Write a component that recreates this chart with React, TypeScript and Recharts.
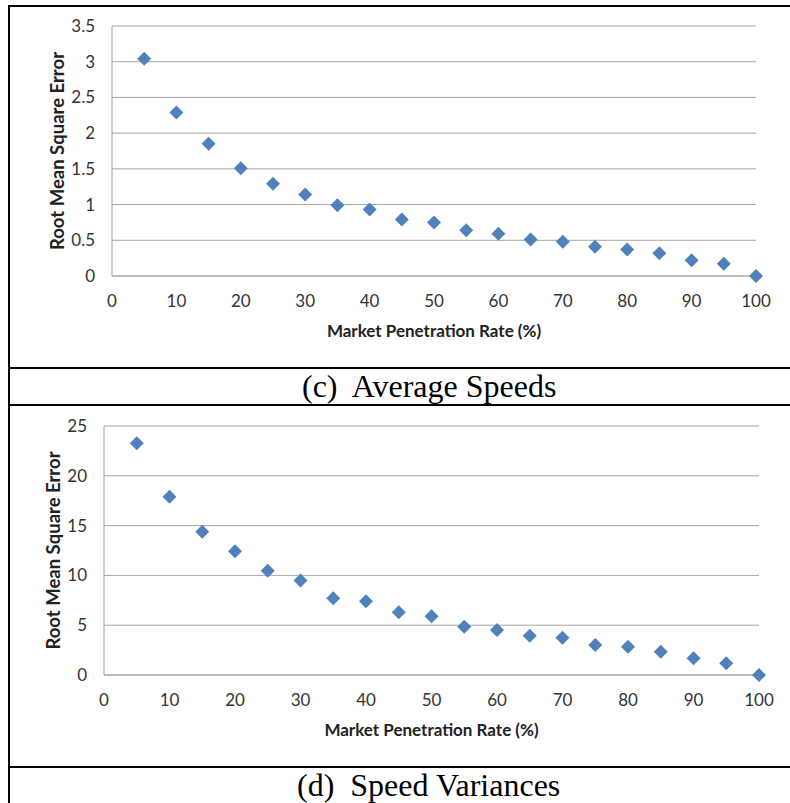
import React from 'react';
import { ScatterChart, Scatter, XAxis, YAxis, CartesianGrid } from 'recharts';

// Market penetration rates (%) shared by both panels
const penetrationRates = [5, 10, 15, 20, 25, 30, 35, 40, 45, 50, 55, 60, 65, 70, 75, 80, 85, 90, 95, 100];

// (c) RMSE of average speeds
const avgSpeedRmse = [3.04, 2.29, 1.85, 1.51, 1.29, 1.14, 0.99, 0.93, 0.79, 0.75, 0.64, 0.59, 0.51, 0.48, 0.41, 0.37, 0.32, 0.22, 0.17, 0.0];

// (d) RMSE of speed variances
const speedVarianceRmse = [23.26, 17.9, 14.39, 12.42, 10.47, 9.5, 7.7, 7.4, 6.3, 5.89, 4.85, 4.52, 3.95, 3.75, 3.01, 2.84, 2.34, 1.67, 1.17, 0.0];

const xTicks = [0, 10, 20, 30, 40, 50, 60, 70, 80, 90, 100];
const avgSpeedTicks = [0, 0.5, 1, 1.5, 2, 2.5, 3, 3.5];
const varianceTicks = [0, 5, 10, 15, 20, 25];

const MARKER = '#4F81BD';
const GRID = '#A6A6A6';
const AXIS_FONT = 'Lato, "Open Sans", sans-serif';

const Diamond = (props: any) => {
  const { cx, cy } = props;
  const r = 7;
  return <path d={`M${cx},${cy - r}L${cx + r},${cy}L${cx},${cy + r}L${cx - r},${cy}Z`} fill={MARKER} />;
};

interface PanelProps {
  values: number[];
  yTicks: number[];
  height: number;
  margin: { top: number; right: number; left: number; bottom: number };
  yAxisWidth: number;
}

const Panel: React.FC<PanelProps> = ({ values, yTicks, height, margin, yAxisWidth }) => {
  const data = penetrationRates.map((x, i) => ({ x, y: values[i] }));
  const tickStyle = { fill: '#333', fontSize: 17, fontFamily: AXIS_FONT };
  return (
    <ScatterChart width={790} height={height} margin={margin}>
      <CartesianGrid vertical={false} stroke={GRID} />
      <XAxis
        type="number"
        dataKey="x"
        domain={[0, 100]}
        ticks={xTicks}
        interval={0}
        tick={tickStyle}
        tickLine={false}
        tickSize={0}
        tickMargin={19}
        axisLine={{ stroke: GRID }}
        height={70}
        label={{
          value: 'Market Penetration Rate (%)',
          position: 'insideTop',
          offset: 49,
          fill: '#222',
          fontSize: 17,
          fontWeight: 700,
          fontFamily: AXIS_FONT,
        }}
      />
      <YAxis
        type="number"
        dataKey="y"
        domain={[yTicks[0], yTicks[yTicks.length - 1]]}
        ticks={yTicks}
        interval={0}
        tick={tickStyle}
        tickLine={false}
        tickSize={0}
        tickMargin={17}
        axisLine={{ stroke: GRID }}
        width={yAxisWidth}
        label={{
          value: 'Root Mean Square Error',
          position: 'center',
          angle: -90,
          fill: '#222',
          fontSize: 18.5,
          fontWeight: 700,
          fontFamily: AXIS_FONT,
        }}
      />
      <Scatter data={data} shape={Diamond} isAnimationActive={false} />
    </ScatterChart>
  );
};

const captionStyle: React.CSSProperties = {
  position: 'absolute',
  fontFamily: '"Liberation Serif", "Times New Roman", serif',
  fontSize: 32,
  lineHeight: '32px',
  whiteSpace: 'pre',
  color: '#000',
};

const line = (left: number, top: number, width: number, height: number): React.CSSProperties => ({
  position: 'absolute',
  left,
  top,
  width,
  height,
  background: '#000',
});

export default function App() {
  return (
    <div style={{ position: 'absolute', left: 0, top: 0, width: 790, height: 803, background: '#fff', overflow: 'hidden' }}>
      <div style={{ position: 'absolute', left: 0, top: 0 }}>
        <Panel
          values={avgSpeedRmse}
          yTicks={avgSpeedTicks}
          height={368}
          margin={{ top: 26, right: 34, left: 2, bottom: 22 }}
          yAxisWidth={110}
        />
      </div>
      <div style={{ position: 'absolute', left: 0, top: 405 }}>
        <Panel
          values={speedVarianceRmse}
          yTicks={varianceTicks}
          height={362}
          margin={{ top: 21, right: 31, left: 2, bottom: 22 }}
          yAxisWidth={102}
        />
      </div>

      <div style={{ ...captionStyle, left: 302, top: 370 }}>(c)  Average Speeds</div>
      <div style={{ ...captionStyle, left: 297, top: 769 }}>(d)  Speed Variances</div>

      {/* table rules */}
      <div style={line(8, 5, 782, 2)} />
      <div style={line(8, 5, 2, 798)} />
      <div style={line(8, 367, 782, 2)} />
      <div style={line(8, 404, 782, 2)} />
      <div style={line(8, 766, 782, 2)} />
    </div>
  );
}
